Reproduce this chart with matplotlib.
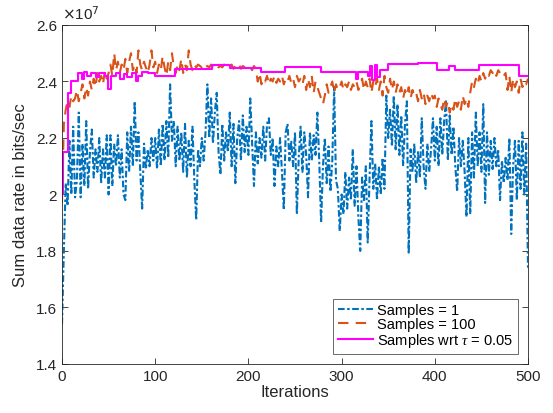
import numpy as np
import matplotlib
matplotlib.use("Agg")
import matplotlib.pyplot as plt
from matplotlib.ticker import FuncFormatter

# sum data rate, in units of 1e7 bits/sec, sampled every 2nd iteration
iters = np.arange(0, 501, 2)

# one sample per run
rate_s1 = [
    1.54, 1.80, 2.04, 1.96, 2.19, 2.00, 2.24, 1.99, 2.05, 2.29,
    1.99, 2.18, 2.03, 2.26, 2.02, 2.15, 2.23, 2.06, 2.16, 2.08,
    2.20, 2.04, 2.16, 2.06, 2.21, 2.00, 2.21, 2.03, 2.18, 2.10,
    2.21, 2.06, 2.16, 2.00, 1.98, 2.22, 2.08, 2.24, 2.10, 2.33,
    2.12, 2.22, 2.08, 1.95, 2.18, 2.09, 2.16, 2.10, 2.20, 2.12,
    2.20, 2.09, 2.23, 2.10, 2.25, 2.12, 2.26, 2.13, 2.39, 2.19,
    2.26, 2.10, 2.24, 2.12, 2.22, 2.08, 2.25, 2.06, 2.19, 2.10,
    2.24, 2.05, 1.91, 2.16, 2.10, 2.20, 2.12, 2.22, 2.39, 2.20,
    2.34, 2.18, 2.29, 2.36, 2.15, 2.07, 2.25, 2.12, 2.22, 2.15,
    2.29, 2.10, 2.25, 2.04, 2.20, 2.26, 2.12, 2.28, 2.15, 2.24,
    2.14, 2.34, 2.18, 2.03, 2.22, 2.11, 2.20, 2.13, 2.24, 2.12,
    2.25, 2.27, 2.14, 2.20, 2.03, 2.17, 2.10, 2.20, 2.08, 1.945,
    2.22, 2.25, 2.12, 2.19, 2.10, 2.22, 1.93, 2.13, 2.24, 2.08,
    2.22, 2.14, 1.99, 2.22, 2.12, 2.21, 2.14, 2.29, 2.12, 1.90,
    2.10, 2.20, 2.04, 2.17, 2.01, 2.12, 2.38, 2.05, 2.02, 1.87,
    2.00, 1.93, 2.08, 1.95, 2.06, 1.98, 2.16, 1.96, 2.10, 1.92,
    1.80, 2.06, 1.98, 2.10, 1.83, 2.06, 2.26, 2.02, 2.11, 1.98,
    2.10, 2.00, 2.13, 2.02, 2.35, 2.20, 2.30, 2.17, 2.35, 2.16,
    2.32, 2.14, 2.28, 2.10, 2.25, 2.33, 1.79, 2.16, 2.08, 2.18,
    2.04, 2.15, 2.06, 2.27, 2.10, 2.02, 2.18, 2.08, 2.16, 2.27,
    2.12, 2.24, 2.10, 2.27, 2.14, 2.26, 2.33, 2.12, 2.28, 2.14,
    2.24, 2.10, 2.01, 2.20, 2.10, 2.19, 2.08, 1.92, 2.20, 1.93,
    2.22, 2.06, 2.29, 2.10, 2.22, 2.08, 2.32, 1.97, 2.22, 2.07,
    2.19, 2.09, 2.20, 2.10, 2.16, 1.98, 2.12, 2.04, 2.13, 2.05,
    2.20, 1.86, 2.10, 2.19, 1.98, 2.19, 2.02, 2.22, 2.00, 2.18,
    1.74,
]

# 100 samples per run
rate_s100 = [
    1.97, 2.25, 2.30, 2.33, 2.31, 2.35, 2.33, 2.34, 2.37, 2.33,
    2.36, 2.39, 2.34, 2.38, 2.35, 2.40, 2.37, 2.41, 2.38, 2.43,
    2.40, 2.42, 2.39, 2.44, 2.41, 2.43, 2.46, 2.42, 2.50, 2.44,
    2.47, 2.43, 2.46, 2.44, 2.48, 2.43, 2.47, 2.50, 2.44, 2.46,
    2.43, 2.51, 2.46, 2.44, 2.47, 2.45, 2.43, 2.46, 2.51, 2.45,
    2.47, 2.43, 2.46, 2.44, 2.49, 2.45, 2.42, 2.47, 2.44, 2.50,
    2.45, 2.43, 2.46, 2.44, 2.48, 2.43, 2.46, 2.44, 2.51, 2.46,
    2.44, 2.46, 2.45, 2.46, 2.455, 2.45, 2.46, 2.45, 2.455, 2.45,
    2.46, 2.45, 2.455, 2.46, 2.45, 2.455, 2.45, 2.46, 2.45, 2.455,
    2.45, 2.46, 2.445, 2.455, 2.45, 2.46, 2.445, 2.455, 2.45, 2.445,
    2.455, 2.45, 2.44, 2.455, 2.445, 2.40, 2.43, 2.39, 2.41, 2.40,
    2.42, 2.39, 2.41, 2.40, 2.42, 2.395, 2.41, 2.40, 2.42, 2.39,
    2.41, 2.40, 2.42, 2.395, 2.41, 2.38, 2.42, 2.40, 2.41, 2.39,
    2.42, 2.37, 2.41, 2.38, 2.42, 2.36, 2.40, 2.38, 2.36, 2.34,
    2.32, 2.35, 2.39, 2.36, 2.38, 2.40, 2.36, 2.39, 2.37, 2.38,
    2.40, 2.37, 2.39, 2.38, 2.40, 2.37, 2.39, 2.38, 2.40, 2.37,
    2.39, 2.41, 2.37, 2.40, 2.38, 2.41, 2.36, 2.40, 2.38, 2.41,
    2.37, 2.40, 2.35, 2.42, 2.38, 2.36, 2.41, 2.37, 2.40, 2.36,
    2.39, 2.36, 2.38, 2.34, 2.37, 2.35, 2.38, 2.34, 2.37, 2.35,
    2.36, 2.33, 2.37, 2.34, 2.36, 2.32, 2.35, 2.33, 2.36, 2.34,
    2.35, 2.31, 2.34, 2.32, 2.30, 2.34, 2.31, 2.33, 2.29, 2.32,
    2.30, 2.34, 2.31, 2.33, 2.30, 2.35, 2.32, 2.34, 2.31, 2.36,
    2.40, 2.38, 2.41, 2.39, 2.42, 2.40, 2.43, 2.41, 2.43, 2.42,
    2.44, 2.43, 2.44, 2.42, 2.44, 2.43, 2.435, 2.42, 2.43, 2.37,
    2.42, 2.36, 2.41, 2.38, 2.40, 2.36, 2.41, 2.38, 2.40, 2.39,
    2.41,
]

# samples chosen wrt tau = 0.05 (held constant between updates)
iters_tau = [
    0, 1, 6, 10, 17, 21, 24, 27, 31, 36,
    40, 46, 49, 53, 58, 62, 66, 70, 75, 79,
    82, 86, 92, 100, 121, 161, 180, 214, 239, 278,
    315, 318, 328, 331, 333, 336, 338, 341, 350, 382,
    402, 415, 422, 447, 490, 500,
]
rate_tau = [
    2.00, 2.15, 2.36, 2.40, 2.43, 2.41, 2.435, 2.42, 2.43, 2.415,
    2.43, 2.42, 2.375, 2.42, 2.43, 2.41, 2.425, 2.415, 2.43, 2.40,
    2.42, 2.435, 2.43, 2.42, 2.443, 2.457, 2.448, 2.433, 2.451, 2.433,
    2.41, 2.433, 2.42, 2.455, 2.405, 2.46, 2.415, 2.44, 2.462, 2.465,
    2.44, 2.455, 2.44, 2.457, 2.421, 2.421,
]

scale = 1e7

plt.rcParams['font.family'] = ['Liberation Sans', 'DejaVu Sans']
plt.rcParams['mathtext.fontset'] = 'custom'
plt.rcParams['mathtext.it'] = 'Liberation Serif:italic'

fig = plt.figure(figsize=(5.53, 4.14), dpi=100)
ax = fig.add_axes([0.1121, 0.1184, 0.8427, 0.8188])

ax.plot(iters, np.array(rate_s1) * scale, color='#0072BD', lw=1.5,
        linestyle=(0, (3.2, 1.2, 1.2, 1.2)), label='Samples = 1')
ax.plot(iters, np.array(rate_s100) * scale, color='#D95319', lw=1.5,
        linestyle=(0, (5, 3.5)), label='Samples = 100')
ax.plot(iters_tau, np.array(rate_tau) * scale, color='#FF00FF', lw=1.5,
        drawstyle='steps-post', label=r'Samples wrt $\tau$ = 0.05')

ax.set_xlim(0, 500)
ax.set_ylim(1.4e7, 2.6e7)
ax.set_xticks([0, 100, 200, 300, 400, 500])
ax.set_yticks(np.arange(1.4, 2.61, 0.2) * scale)
ax.yaxis.set_major_formatter(FuncFormatter(lambda v, p: f'{v / scale:g}'))
ax.text(0.0, 1.008, r'$\times$10$^{7}$', transform=ax.transAxes,
        fontsize=11, ha='left', va='bottom', color='#262626')

ax.tick_params(direction='in', length=4, width=0.6, labelsize=11,
               colors='#262626', top=True, right=True)
for s in ax.spines.values():
    s.set_linewidth(0.6)
    s.set_color('#262626')

ax.set_xlabel('Iterations', fontsize=12, color='#262626', labelpad=1)
ax.set_ylabel('Sum data rate in bits/sec', fontsize=12, color='#262626', labelpad=6)

leg = ax.legend(loc='lower right', fontsize=10.5, frameon=True, fancybox=False,
                edgecolor='#262626', borderpad=0.3, labelspacing=0.0,
                handlelength=2.4, handletextpad=0.3, borderaxespad=0.7)
leg.get_frame().set_linewidth(0.6)

fig.savefig('out.png', dpi=100, facecolor='white')
